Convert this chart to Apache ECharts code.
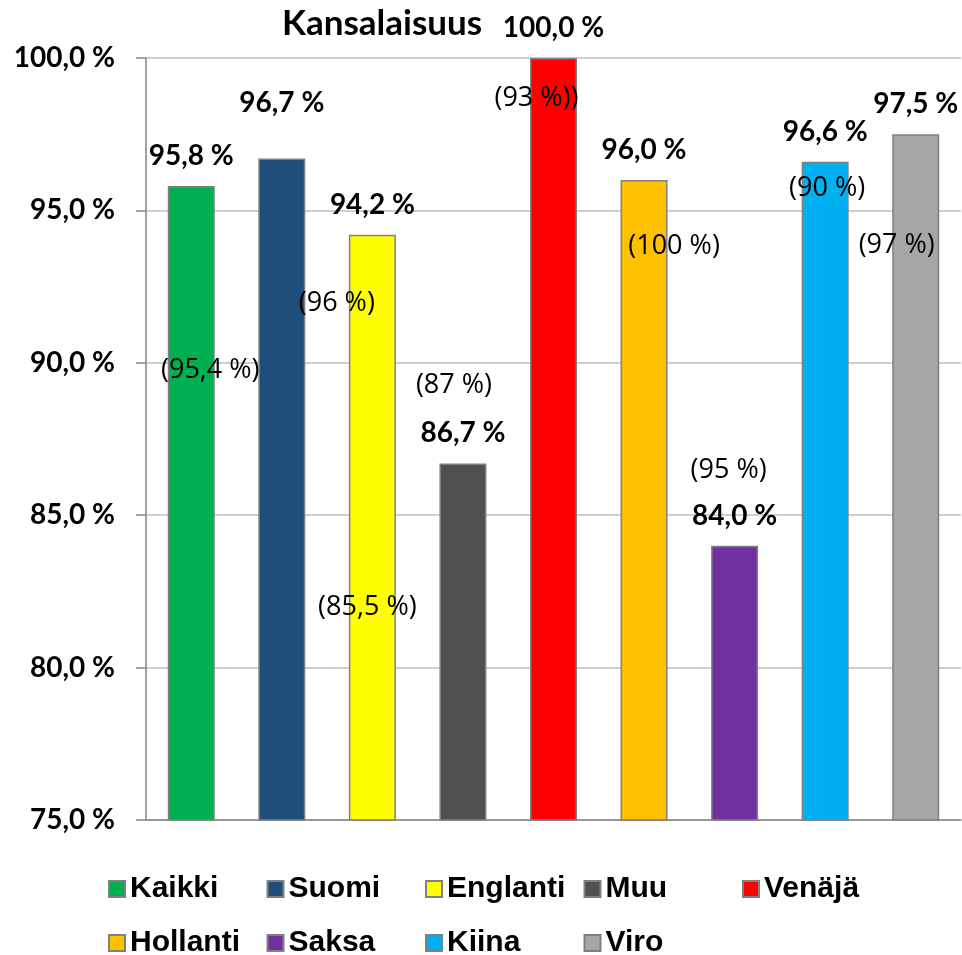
<!DOCTYPE html>
<html>
<head>
<meta charset="utf-8">
<script src="https://cdn.jsdelivr.net/npm/echarts@6/dist/echarts.min.js"></script>
<style>
  html, body { margin: 0; padding: 0; background: #fff; }
  #chart { width: 962px; height: 955px; }
</style>
</head>
<body>
<div id="chart"></div>
<script>
// 数据
const categories = ['Kaikki', 'Suomi', 'Englanti', 'Muu', 'Venäjä', 'Hollanti', 'Saksa', 'Kiina', 'Viro'];
const values = [95.8, 96.7, 94.2, 86.7, 100.0, 96.0, 84.0, 96.6, 97.5];
// vertailuluvut suluissa
const notes = ['(95,4 %)', '(96 %)', '(85,5 %)', '(87 %)', '(93 %))', '(100 %)', '(95 %)', '(90 %)', '(97 %)'];
const colors = ['#00b050', '#1f4e79', '#ffff00', '#505050', '#ff0000', '#ffc000', '#7030a0', '#00b0f0', '#a6a6a6'];
const yTicks = [75, 80, 85, 90, 95, 100];

// sulkutekstien sijainti (akselin yksiköissä) ja vaakasiirto pikseleinä
const noteAnchor = [89.76, 91.96, 81.99, 89.27, 98.69, 93.83, 86.48, 95.73, 93.87];
const noteShift = [19, 55, -5, -9, -17, 30, -6, 2, -19];

const fmt = (v) => `${v.toFixed(1).replace('.', ',')} %`;
const numFont = 'Lato';

const barSeries = categories.map((name, i) => ({
  name,
  type: 'bar',
  barWidth: 47,
  barGap: '-100%',
  itemStyle: { color: colors[i], borderColor: '#808080', borderWidth: 1.5 },
  label: {
    show: true,
    position: 'top',
    distance: 16,
    formatter: (p) => fmt(p.value),
    fontFamily: numFont,
    fontWeight: 'bold',
    fontSize: 28,
    color: '#000',
  },
  data: categories.map((c, j) => {
    if (j !== i) return null;
    // Suomen otsikko on nostettu ylemmäs
    if (i === 1) return { value: values[j], label: { offset: [0, -26] } };
    return values[j];
  }),
}));

const noteSeries = {
  name: 'notes',
  type: 'scatter',
  symbolSize: 0,
  z: 5,
  itemStyle: { color: 'transparent', opacity: 1 },
  label: {
    show: true,
    position: 'inside',
    formatter: (p) => notes[p.dataIndex],
    fontFamily: 'Open Sans',
    fontSize: 27,
    color: '#000',
  },
  data: noteAnchor.map((y, i) => ({ value: [i, y], label: { offset: [noteShift[i], 0] } })),
};

// selitteet kahteen riviin, kiinteät sarakkeet
const legends = categories.map((name, i) => ({
  data: [name],
  left: 108 + (i % 5) * 158.5,
  top: i < 5 ? 874 : 928,
  padding: 0,
  itemWidth: 16,
  itemHeight: 16,
  icon: 'rect',
  selectedMode: false,
  textStyle: { fontFamily: 'Liberation Sans', fontWeight: 'bold', fontSize: 30, color: '#000' },
}));

const chart = echarts.init(document.getElementById('chart'));
chart.setOption({
  animation: false,
  title: {
    text: 'Kansalaisuus',
    left: 277,
    top: 1,
    textStyle: { fontFamily: numFont, fontWeight: 'bold', fontSize: 35, color: '#000' },
  },
  legend: legends,
  grid: { left: 146, right: 1, top: 58, bottom: 135 },
  xAxis: {
    type: 'category',
    data: categories,
    axisLine: { lineStyle: { color: '#868686', width: 1.5 } },
    axisTick: { show: false },
    axisLabel: { show: false },
  },
  yAxis: {
    type: 'value',
    min: yTicks[0],
    max: yTicks[yTicks.length - 1],
    interval: 5,
    axisLine: { show: true, lineStyle: { color: '#868686', width: 1.5 } },
    axisTick: { show: true, length: 10, lineStyle: { color: '#868686', width: 1.5 } },
    axisLabel: {
      margin: 31,
      formatter: fmt,
      fontFamily: numFont,
      fontWeight: 'bold',
      fontSize: 28,
      color: '#000',
    },
    splitLine: { lineStyle: { color: '#bfbfbf', width: 1.5 } },
  },
  series: [...barSeries, noteSeries],
});
</script>
</body>
</html>
